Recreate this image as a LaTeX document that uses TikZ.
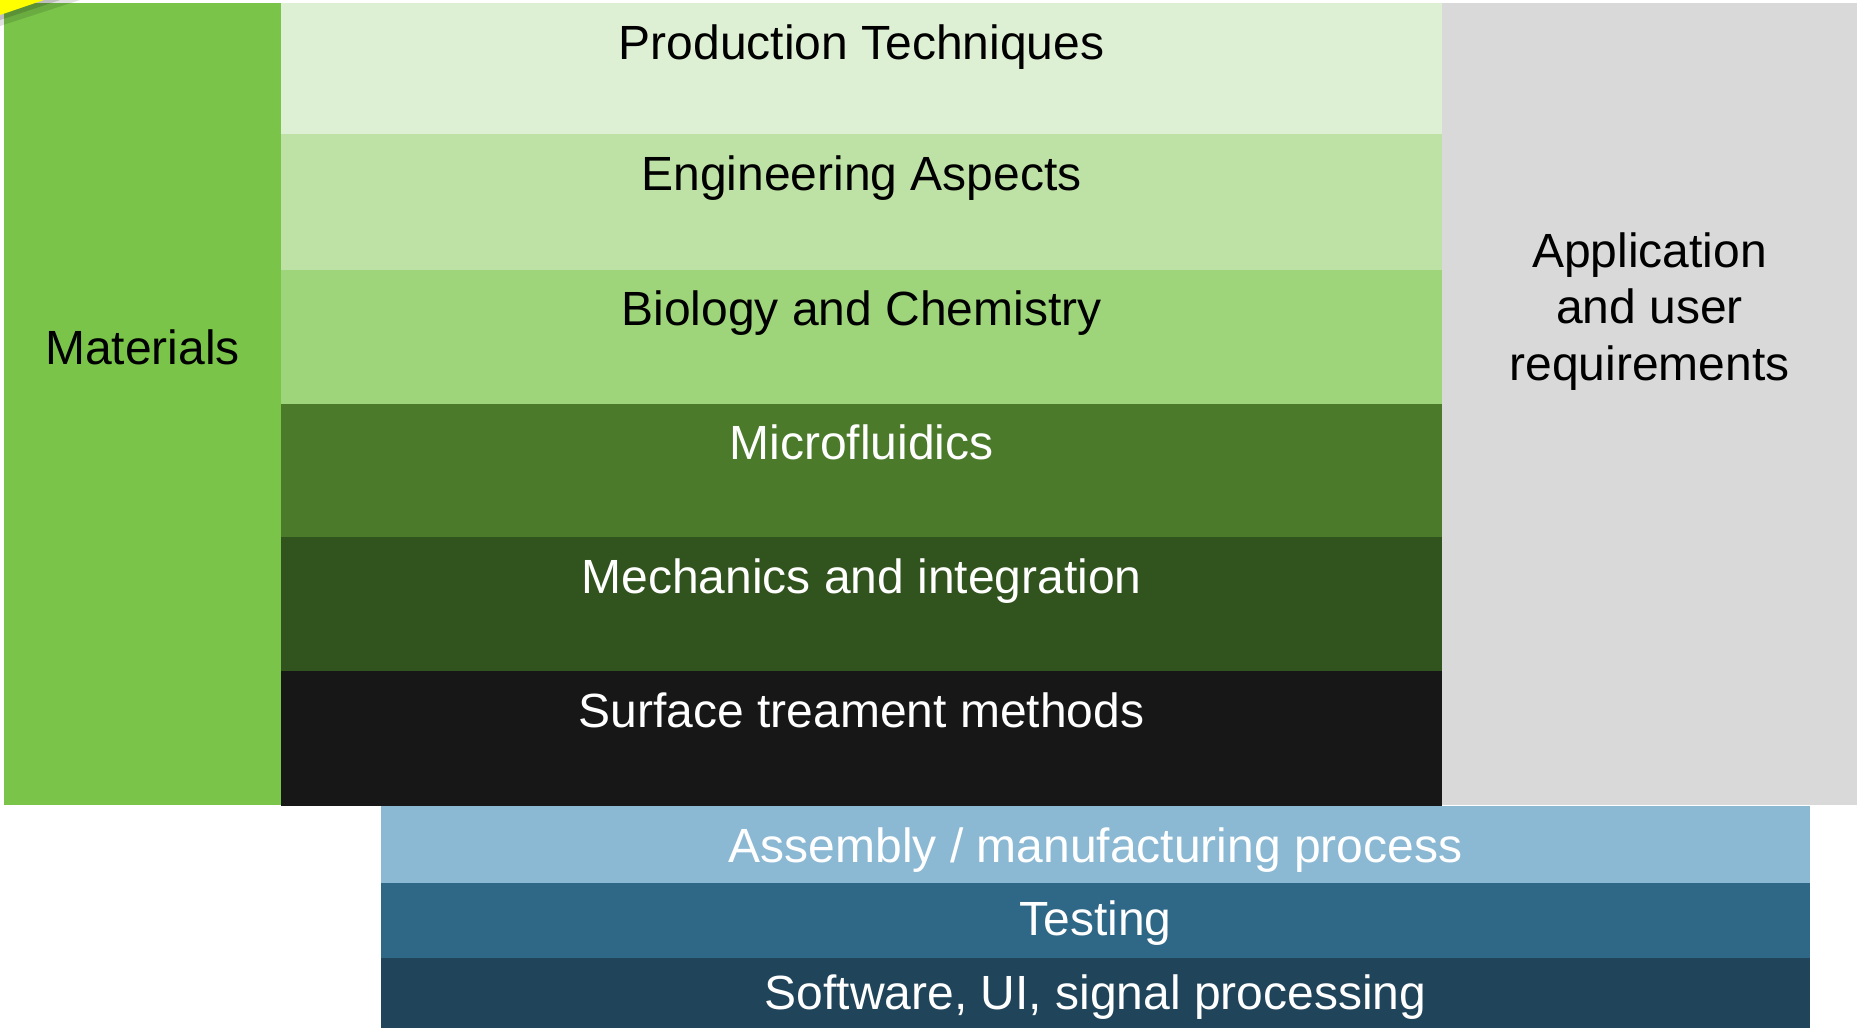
\documentclass[tikz,border=0pt]{standalone}
\usepackage{fontspec}
\setmainfont{Liberation Sans}
\definecolor{matgreen}{HTML}{7AC44A}
\definecolor{rowA}{HTML}{DEF0D4}
\definecolor{rowB}{HTML}{BEE2A5}
\definecolor{rowC}{HTML}{9ED47A}
\definecolor{rowD}{HTML}{4A7A2A}
\definecolor{rowE}{HTML}{31531D}
\definecolor{rowF}{HTML}{171717}
\definecolor{appgray}{HTML}{D9D9D9}
\definecolor{blueA}{HTML}{8BB9D4}
\definecolor{blueB}{HTML}{2F6786}
\definecolor{blueC}{HTML}{20445A}
\definecolor{tabyellow}{HTML}{FFFF00}
\begin{document}
\begin{tikzpicture}[x=1pt,y=-1pt,
  lbl/.style={font=\fontsize{48}{56.7}\selectfont, inner sep=0pt, anchor=base},
  lblw/.style={lbl, text=white}]
\useasboundingbox (0,0) rectangle (1857,1028);
\fill[white] (0,0) rectangle (1857,1028);
% left column
\fill[matgreen] (4,3) rectangle (281,805);
% middle rows
\fill[rowA] (281,3) rectangle (1442,134);
\fill[rowB] (281,134) rectangle (1442,270);
\fill[rowC] (281,270) rectangle (1442,404);
\fill[rowD] (281,404) rectangle (1442,537);
\fill[rowE] (281,537) rectangle (1442,671);
\fill[rowF] (281,671) rectangle (1442,806);
% right column
\fill[appgray] (1442,3) rectangle (1857,805);
% bottom bars
\fill[blueA] (381,806) rectangle (1810,883);
\fill[blueB] (381,883) rectangle (1810,958);
\fill[blueC] (381,958) rectangle (1810,1028);
% yellow tab with shadow
\fill[black, opacity=0.12] (0,0) -- (80,0) -- (0,26) -- cycle;
\fill[black, opacity=0.15] (0,0) -- (60,0) -- (0,20) -- cycle;
\fill[tabyellow] (0,0) -- (44,0) -- (0,15) -- cycle;
% labels
\node[lbl] (prod) at (861.5,59.5) {Production Techniques};
\node[lbl] (eng) at (861.5,190.5) {Engineering Aspects};
\node[lbl] (bio) at (861.5,325.5) {Biology and Chemistry};
\node[lblw] (micro) at (861.5,459.5) {Microfluidics};
\node[lblw] (mech) at (861.5,593.5) {Mechanics and integration};
\node[lblw] (surf) at (861.5,727.5) {Surface treament methods};
\node[lbl] (mat) at (142.5,364.5) {Materials};
\node[lbl, anchor=center, align=center] (app) at (1649.5,311.5) {Application\\and user\\requirements};
\node[lblw] (asm) at (1095.5,862) {Assembly / manufacturing process};
\node[lblw] (test) at (1095.5,935.5) {Testing};
\node[lblw] (soft) at (1095.5,1009) {Software, UI, signal processing};
\end{tikzpicture}
\end{document}
